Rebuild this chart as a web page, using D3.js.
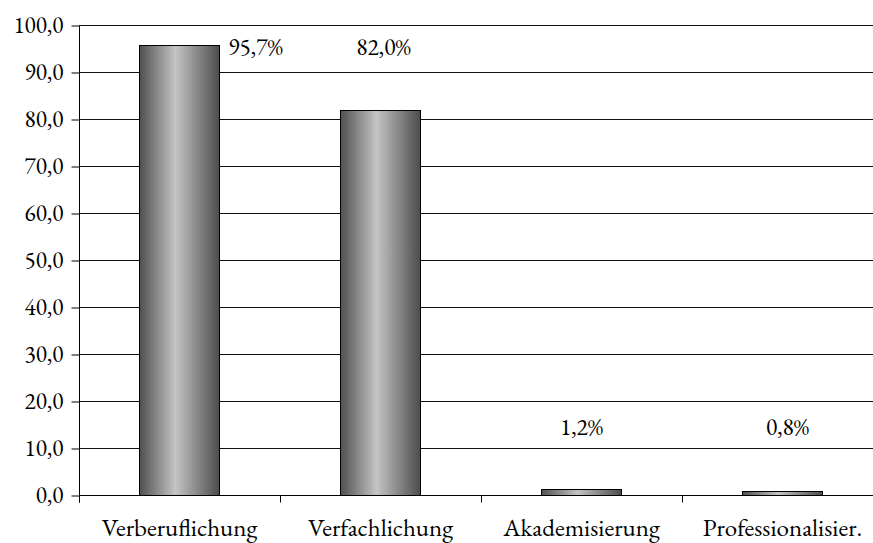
<!DOCTYPE html>
<html>
<head>
<meta charset="utf-8">
<script src="https://cdn.jsdelivr.net/npm/d3@7"></script>
<style>
  html, body { margin: 0; padding: 0; background: #fff; }
  svg { display: block; }
</style>
</head>
<body>
<svg id="chart" width="873" height="543"></svg>
<script>
const categories = ["Verberuflichung", "Verfachlichung", "Akademisierung", "Professionalisier."];
const values = [95.7, 82.0, 1.2, 0.8];
const valueLabels = ["95,7%", "82,0%", "1,2%", "0,8%"];
const yTicks = [0, 10, 20, 30, 40, 50, 60, 70, 80, 90, 100];

(function () {
const FONT = '"EB Garamond", "Liberation Serif", serif';
const svg = d3.select("#chart");
const mL = 79, mR = 883, mT = 25, mB = 495;

const x = d3.scaleBand().domain(categories).range([mL, mR])
  .paddingInner(0.6).paddingOuter(0.3);
const y = d3.scaleLinear().domain([0, 100]).range([mB, mT]);
const fmt = v => d3.format(".1f")(v).replace(".", ",");

// gradient
const defs = svg.append("defs");
const g = defs.append("linearGradient").attr("id", "barGrad")
  .attr("x1", "0%").attr("x2", "100%").attr("y1", "0%").attr("y2", "0%");
g.append("stop").attr("offset", "0%").attr("stop-color", "#505050");
g.append("stop").attr("offset", "45%").attr("stop-color", "#c4c4c4");
g.append("stop").attr("offset", "100%").attr("stop-color", "#4c4c4c");

// gridlines
svg.append("g").selectAll("line").data(yTicks.filter(d => d > 0)).join("line")
  .attr("x1", mL).attr("x2", mR)
  .attr("y1", d => Math.round(y(d)) + 0.5).attr("y2", d => Math.round(y(d)) + 0.5)
  .attr("stroke", "#111").attr("stroke-width", 1);

// bars
svg.append("g").selectAll("rect").data(values).join("rect")
  .attr("x", (d, i) => Math.round(x(categories[i])) + 0.5)
  .attr("y", d => Math.round(y(d)) + 0.5)
  .attr("width", Math.round(x.bandwidth()))
  .attr("height", d => Math.round(y(0)) - Math.round(y(d)))
  .attr("fill", "url(#barGrad)")
  .attr("stroke", "#000").attr("stroke-width", 1);

// y axis
const yAxis = d3.axisLeft(y).tickValues(yTicks).tickFormat(fmt).tickSize(8).tickPadding(8);
const ya = svg.append("g").attr("transform", `translate(${mL + 0.5},0.5)`).call(yAxis);
ya.attr("font-family", null).attr("font-size", null);
ya.select(".domain").attr("stroke", "#000").attr("d", `M0,${mT - 0.5}V${mB + 7}`);
ya.selectAll(".tick line").attr("stroke", "#000");
ya.selectAll(".tick text").style("font-family", FONT).style("font-size", "23.3px").attr("fill", "#000");

// x axis
const xa = svg.append("g").attr("transform", `translate(0,${Math.round(y(0)) + 0.5})`);
xa.append("line").attr("x1", mL).attr("x2", mR).attr("stroke", "#000");
const bounds = d3.range(categories.length + 1).map(i => mL + i * x.step());
xa.selectAll("line.tk").data(bounds).join("line").attr("class", "tk")
  .attr("x1", d => Math.round(d) + 0.5).attr("x2", d => Math.round(d) + 0.5)
  .attr("y1", 0).attr("y2", 7).attr("stroke", "#000");
xa.selectAll("text").data(categories).join("text")
  .attr("x", d => x(d) + x.bandwidth() / 2)
  .attr("y", 40)
  .attr("text-anchor", "middle")
  .style("font-family", FONT).style("font-size", "25px")
  .attr("fill", "#000")
  .text(d => d);

// value labels (manually placed like the original)
const labelShift = [[76, 10], [3, -55], [0, -54], [5, -56]];
svg.append("g").selectAll("text").data(values).join("text")
  .attr("x", (d, i) => x(categories[i]) + x.bandwidth() / 2 + labelShift[i][0])
  .attr("y", (d, i) => y(d) + labelShift[i][1])
  .attr("text-anchor", "middle")
  .style("font-family", FONT).style("font-size", "23.5px")
  .attr("fill", "#000")
  .text((d, i) => valueLabels[i]);
})();
</script>
</body>
</html>
